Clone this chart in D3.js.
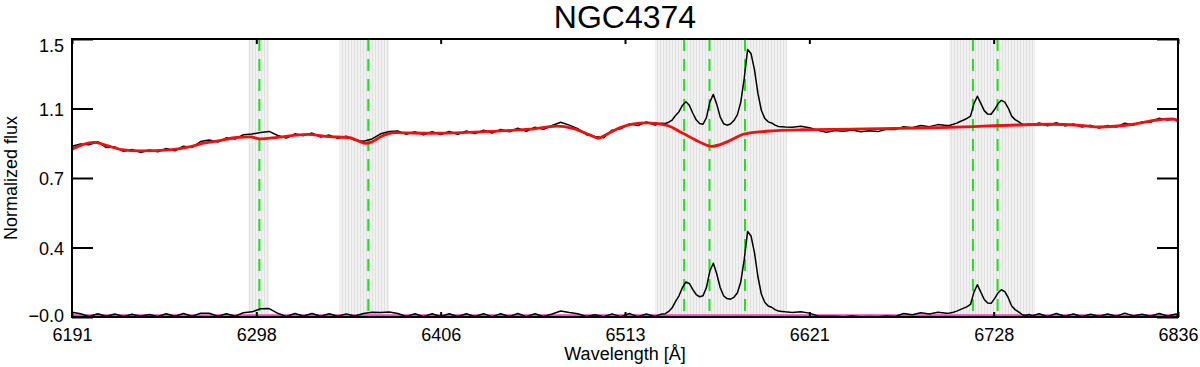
<!DOCTYPE html>
<html>
<head>
<meta charset="utf-8">
<script src="https://cdn.jsdelivr.net/npm/d3@7"></script>
<style>
  html, body { margin: 0; padding: 0; background: #fff; }
  svg { display: block; }
</style>
</head>
<body>
<div id="chart"></div>
<script>
// Data
const titleText = "NGC4374";

const xTickValues = [6191, 6298.5, 6406, 6513.5, 6621, 6728.5, 6836];
const xTickLabels = ["6191", "6298", "6406", "6513", "6621", "6728", "6836"];
const yTickValues = [-0.01, 0.3675, 0.745, 1.1225, 1.5];
const yTickLabels = ["\u22120.0", "0.4", "0.7", "1.1", "1.5"];

// masked (grey) wavelength windows
const maskStart = [6294, 6347, 6531, 6702.5];
const maskEnd   = [6306, 6376, 6608, 6752.6];

// emission line markers (green dashed)
const lineWaves = [6300.3, 6363.8, 6548.0, 6562.8, 6583.5, 6716.4, 6730.8];

// observed spectrum + residual (same wavelength grid)
const obsWave = [
  6191,6196,6201,6206,6211,6216,6221,6226,6231,6236,6241,6246,6251,6256,6261,6266,6271,6276,6281,6286,
  6291,6296,6301,6306,6311,6316,6321,6326,6331,6336,6341,6346,6351,6356,6361,6366,6371,6376,6381,6386,
  6391,6396,6401,6406,6411,6416,6421,6426,6431,6436,6441,6446,6451,6456,6461,6466,6471,6476,6481,6486,
  6491,6496,6501,6506,6511,6516,6521,6526,6531,
  6533,6535,6537,6539,6541,6543,6545,6547,6549,6551,6553,6555,6557,6559,6561,6563,6565,6567,6569,6571,
  6573,6575,6577,6579,6581,6583,6585,6587,6589,6591,6593,6595,6597,6599,6601,6603,6605,6607,
  6611,6616,6621,6626,6631,6636,6641,6646,6651,6656,6661,6666,6671,6676,6681,6686,6691,6696,6701,
  6703,6705,6707,6709,6711,6713,6715,6717,6719,6721,6723,6725,6727,6729,6731,6733,6735,6737,6739,6741,
  6743,6745,6747,6749,6751,
  6755,6760,6765,6770,6775,6780,6785,6790,6795,6800,6805,6810,6815,6820,6825,6830,6835,6836
];
const obsFlux = [
  0.917,0.930,0.925,0.942,0.910,0.914,0.890,0.900,0.884,0.897,0.887,0.905,0.893,0.918,0.911,0.943,0.951,0.940,0.963,0.957,
  0.980,0.984,0.992,0.998,0.976,0.962,0.985,0.975,0.989,0.968,0.978,0.961,0.972,0.950,0.945,0.957,0.985,0.998,1.000,0.982,
  0.997,0.979,0.996,0.981,0.998,0.983,1.000,0.986,1.004,0.989,1.009,0.996,1.015,0.999,1.021,1.010,1.030,1.048,1.032,1.013,
  0.980,0.970,0.964,1.005,1.012,1.039,1.030,1.050,1.032,
  1.040,1.043,1.041,1.048,1.060,1.085,1.105,1.139,1.159,1.140,1.098,1.061,1.041,1.037,1.073,1.158,1.199,1.146,1.077,1.040,
  1.032,1.038,1.057,1.088,1.156,1.283,1.443,1.421,1.334,1.206,1.113,1.069,1.050,1.044,1.032,1.025,1.024,1.022,
  1.021,1.026,1.018,1.004,0.994,1.003,0.999,1.006,0.996,1.001,0.997,1.010,1.008,1.024,1.018,1.030,1.024,1.035,1.030,
  1.032,1.037,1.043,1.052,1.060,1.069,1.081,1.149,1.189,1.150,1.111,1.092,1.091,1.117,1.148,1.167,1.157,1.125,1.081,1.062,
  1.051,1.038,1.032,1.039,1.032,
  1.044,1.029,1.045,1.028,1.038,1.022,1.031,1.016,1.030,1.022,1.043,1.033,1.050,1.048,1.070,1.060,1.064,1.048
];
const residFlux = [
  0.016,0.008,-0.007,0.008,-0.006,0.006,-0.007,0.005,-0.006,0.004,-0.007,0.008,-0.006,0.009,-0.006,0.010,0.010,-0.006,0.008,-0.005,
  0.013,0.018,0.035,0.036,0.010,-0.007,0.009,-0.005,0.009,-0.006,0.008,-0.006,0.007,-0.005,0.009,0.016,0.015,0.017,0.009,-0.007,
  0.008,-0.008,0.008,-0.007,0.008,-0.007,0.008,-0.007,0.008,-0.008,0.008,-0.007,0.009,-0.008,0.008,-0.007,0.006,0.023,0.014,0.008,
  -0.007,0.002,-0.008,0.007,-0.008,0.009,-0.008,0.006,-0.007,
  0.000,0.006,0.008,0.020,0.040,0.075,0.105,0.150,0.180,0.172,0.140,0.112,0.100,0.105,0.150,0.240,0.282,0.225,0.150,0.105,
  0.090,0.087,0.097,0.120,0.180,0.300,0.455,0.430,0.340,0.210,0.115,0.070,0.050,0.043,0.030,0.022,0.020,0.018,
  0.015,0.019,0.011,-0.004,-0.006,-0.006,-0.008,-0.004,-0.008,-0.007,-0.008,-0.004,-0.007,0.009,0.002,0.013,0.006,0.016,0.010,
  0.012,0.016,0.022,0.030,0.038,0.046,0.058,0.125,0.165,0.125,0.085,0.066,0.064,0.090,0.120,0.138,0.128,0.095,0.050,0.030,
  0.018,0.004,-0.002,0.004,-0.003,
  0.008,-0.007,0.009,-0.006,0.006,-0.007,0.005,-0.006,0.006,-0.006,0.011,-0.004,0.005,-0.006,0.009,-0.005,0.006,-0.007
];

// best-fit stellar model (red), smooth
const modelWave = [6191,6196,6204,6212,6219,6231,6248,6260,6267,6277,6287,6295,6300.6,6311,6328,6341,6353,6357,6362,6366,
  6371,6380,6400,6419,6439,6458,6474,6483,6493,6498,6501,6506,6511,6526,6538,6547,6557,6564,6573,6583,
  6596,6616,6645,6674,6703,6742,6761,6781,6790,6810,6824,6833,6836];
const modelFlux = [0.901,0.922,0.938,0.919,0.901,0.892,0.898,0.915,0.933,0.948,0.965,0.968,0.957,0.966,0.982,0.970,0.964,0.951,0.933,0.941,
  0.969,0.991,0.988,0.991,1.000,1.010,1.027,1.015,0.979,0.961,0.973,0.998,1.020,1.044,1.031,0.989,0.941,0.917,0.941,0.984,
  0.999,1.007,1.010,1.015,1.020,1.033,1.037,1.029,1.022,1.037,1.060,1.066,1.055];

const zeroLevel = 0;

// Config
const width = 1200, height = 367;
const margin = { top: 39, right: 22, bottom: 50, left: 72 };
const plotW = width - margin.left - margin.right;
const plotH = height - margin.top - margin.bottom;
const font = "'Liberation Sans', Arial, Helvetica, sans-serif";

const svg = d3.select("#chart")
    .append("svg")
    .attr("width", width)
    .attr("height", height)
    .style("background", "#fff");

const x = d3.scaleLinear().domain([6191, 6836]).range([margin.left, margin.left + plotW]);
const y = d3.scaleLinear().domain([-0.01, 1.5]).range([margin.top + plotH, margin.top]);

// stripe pattern for masked windows
const pat = svg.append("defs").append("pattern")
    .attr("id", "maskStripes")
    .attr("patternUnits", "userSpaceOnUse")
    .attr("width", 3).attr("height", 10);
pat.append("rect").attr("width", 3).attr("height", 10).attr("fill", "#f1f1f1");
pat.append("line").attr("x1", 0.5).attr("x2", 0.5).attr("y1", 0).attr("y2", 10)
    .attr("stroke", "#e0e0e0").attr("stroke-width", 1);

svg.append("g").selectAll("rect")
    .data(maskStart.map((s, i) => [s, maskEnd[i]]))
    .join("rect")
    .attr("x", d => x(d[0]))
    .attr("width", d => x(d[1]) - x(d[0]))
    .attr("y", margin.top)
    .attr("height", plotH)
    .attr("fill", "url(#maskStripes)");

// green dashed line markers
svg.append("g").selectAll("line")
    .data(lineWaves)
    .join("line")
    .attr("x1", d => x(d)).attr("x2", d => x(d))
    .attr("y1", margin.top).attr("y2", margin.top + plotH)
    .attr("stroke", "#1ee01e")
    .attr("stroke-width", 2)
    .attr("stroke-dasharray", "12,8");

// zero level (magenta)
svg.append("line")
    .attr("x1", x(6191)).attr("x2", x(6836))
    .attr("y1", y(zeroLevel)).attr("y2", y(zeroLevel))
    .attr("stroke", "#ff3fd2")
    .attr("stroke-width", 2);

const spec = d3.line()
    .x(d => x(d[0]))
    .y(d => y(d[1]));

// residual (black, bottom)
svg.append("path")
    .datum(obsWave.map((w, i) => [w, residFlux[i]]))
    .attr("d", spec)
    .attr("fill", "none")
    .attr("stroke", "#000")
    .attr("stroke-width", 1.5)
    .attr("stroke-linejoin", "round");

// observed spectrum
svg.append("path")
    .datum(obsWave.map((w, i) => [w, obsFlux[i]]))
    .attr("d", spec)
    .attr("fill", "none")
    .attr("stroke", "#000")
    .attr("stroke-width", 1.5)
    .attr("stroke-linejoin", "round");

// model (red)
svg.append("path")
    .datum(modelWave.map((w, i) => [w, modelFlux[i]]))
    .attr("d", d3.line().x(d => x(d[0])).y(d => y(d[1])).curve(d3.curveMonotoneX))
    .attr("fill", "none")
    .attr("stroke", "#f01010")
    .attr("stroke-width", 2.8);

// Axes
function styleAxis(g) {
    g.select(".domain").remove();
    g.selectAll(".tick line").attr("stroke", "#000").attr("stroke-width", 2);
    g.attr("font-family", font).attr("font-size", 18);
    g.selectAll(".tick text").attr("fill", "#000");
}

svg.append("g")
    .attr("transform", `translate(0,${margin.top + plotH})`)
    .call(d3.axisBottom(x).tickValues(xTickValues)
        .tickFormat((d, i) => xTickLabels[i])
        .tickSizeInner(-5).tickSizeOuter(0).tickPadding(11))
    .call(styleAxis);

svg.append("g")
    .attr("transform", `translate(0,${margin.top})`)
    .call(d3.axisTop(x).tickValues(xTickValues).tickFormat("")
        .tickSizeInner(-5).tickSizeOuter(0))
    .call(styleAxis);

const yAxisG = svg.append("g")
    .attr("transform", `translate(${margin.left},0)`)
    .call(d3.axisLeft(y).tickValues(yTickValues)
        .tickFormat((d, i) => yTickLabels[i])
        .tickSizeInner(-21).tickSizeOuter(0).tickPadding(8))
    .call(styleAxis);

// keep end labels inside the frame, like the original
yAxisG.selectAll(".tick text")
    .attr("y", d => {
        const py = y(d);
        const c = Math.min(Math.max(py, margin.top + 6), margin.top + plotH - 2.5);
        return c - py + 1;
    });

svg.append("g")
    .attr("transform", `translate(${margin.left + plotW},0)`)
    .call(d3.axisRight(y).tickValues(yTickValues).tickFormat("")
        .tickSizeInner(-21).tickSizeOuter(0))
    .call(styleAxis);

// frame
svg.append("rect")
    .attr("x", margin.left).attr("y", margin.top)
    .attr("width", plotW).attr("height", plotH)
    .attr("fill", "none")
    .attr("stroke", "#000")
    .attr("stroke-width", 2);

// Title and axis titles
svg.append("text")
    .attr("x", margin.left + plotW / 2)
    .attr("y", 28)
    .attr("text-anchor", "middle")
    .attr("font-family", font)
    .attr("font-size", 32)
    .text(titleText);

svg.append("text")
    .attr("x", margin.left + plotW / 2)
    .attr("y", 360)
    .attr("text-anchor", "middle")
    .attr("font-family", font)
    .attr("font-size", 18)
    .text("Wavelength [\u00c5]");

svg.append("text")
    .attr("transform", `translate(17,${margin.top + plotH / 2}) rotate(-90)`)
    .attr("text-anchor", "middle")
    .attr("font-family", font)
    .attr("font-size", 18)
    .text("Normalized flux");
</script>
</body>
</html>
